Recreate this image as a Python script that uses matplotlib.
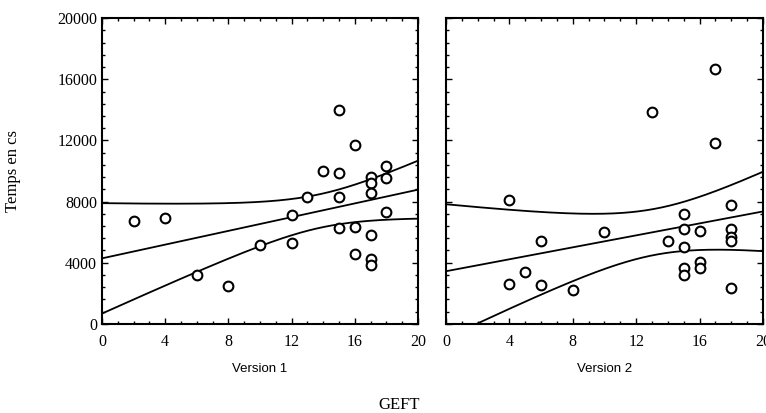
import numpy as np
import matplotlib.pyplot as plt
from matplotlib.ticker import MultipleLocator

# GEFT score vs. time (cs), one panel per version
v1_geft = [2, 4, 6, 8, 10, 12, 12, 13, 14, 15, 15, 15, 15, 16, 16, 16,
           17, 17, 17, 17, 17, 17, 18, 18, 18]
v1_temps = [6700, 6900, 3200, 2500, 5150, 5300, 7100, 8300, 10000, 14000,
            9900, 8300, 6250, 11700, 6350, 4550, 9600, 9200, 8550, 5800,
            4250, 3850, 10300, 9550, 7300]

v2_geft = [4, 4, 5, 6, 6, 8, 10, 13, 14, 15, 15, 15, 15, 15, 16, 16, 16,
           17, 17, 18, 18, 18, 18, 18]
v2_temps = [8100, 2600, 3400, 5450, 2550, 2200, 6000, 13850, 5400, 7200,
            6200, 5000, 3650, 3200, 6100, 4050, 3650, 16700, 11800, 7800,
            6200, 5700, 5400, 2350]

panels = [("Version 1", v1_geft, v1_temps), ("Version 2", v2_geft, v2_temps)]

plt.rcParams["font.family"] = "Liberation Serif"

fig = plt.figure(figsize=(7.66, 4.13), dpi=100)
axes = [fig.add_axes([0.1332, 0.216, 0.4125, 0.740]),
        fig.add_axes([0.5822, 0.216, 0.4138, 0.740])]

T95 = 2.07  # student t, 95 %, ~23 df

for i, (ax, (name, x, y)) in enumerate(zip(axes, panels)):
    x = np.asarray(x, float)
    y = np.asarray(y, float)
    n = len(x)
    slope, icpt = np.polyfit(x, y, 1)
    resid = y - (slope * x + icpt)
    s = np.sqrt(np.sum(resid ** 2) / (n - 2))
    sxx = np.sum((x - x.mean()) ** 2)

    xs = np.linspace(0, 20, 200)
    fit = slope * xs + icpt
    half = T95 * s * np.sqrt(1 / n + (xs - x.mean()) ** 2 / sxx)

    ax.plot(xs, fit, c="black", lw=1.3)
    ax.plot(xs, fit + half, c="black", lw=1.3)
    ax.plot(xs, fit - half, c="black", lw=1.3)
    ax.plot(x, y, ls="none", marker="o", ms=7, mfc="white", mec="black",
            mew=1.5)

    ax.set_xlim(0, 20)
    ax.set_ylim(0, 20000)
    ax.xaxis.set_major_locator(MultipleLocator(4))
    ax.xaxis.set_minor_locator(MultipleLocator(1))
    ax.yaxis.set_major_locator(MultipleLocator(4000))
    ax.yaxis.set_minor_locator(MultipleLocator(800))
    ax.tick_params(which="both", direction="in", top=True, right=True,
                   width=1.0, labelsize=11.5)
    ax.tick_params(axis="x", pad=7)
    ax.tick_params(which="major", length=4)
    ax.tick_params(which="minor", length=2)
    for sp in ax.spines.values():
        sp.set_linewidth(1.5)
    ax.set_xlabel(name, family="Liberation Sans", fontsize=9.5, labelpad=10)
    if i == 0:
        ax.set_ylabel("Temps en cs", fontsize=12, labelpad=26)
    else:
        ax.tick_params(labelleft=False)

fig.text(0.521, 0.01, "GEFT", ha="center", fontsize=12)

fig.savefig("out.png", dpi=100)
